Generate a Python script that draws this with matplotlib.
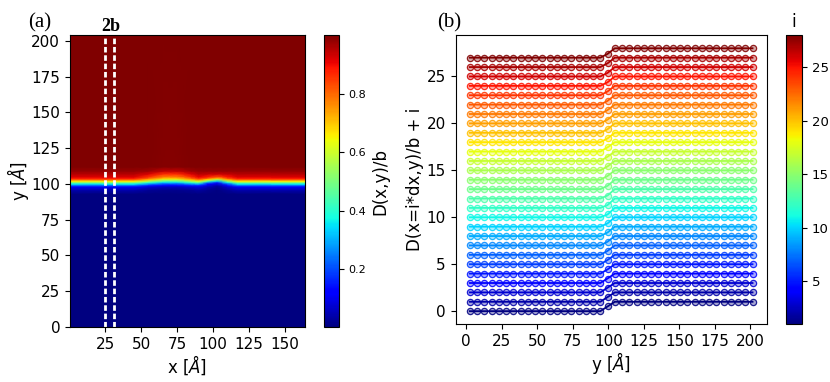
import numpy as np
import matplotlib
matplotlib.use("Agg")
from matplotlib import pyplot as plt
from matplotlib import cm, colors

# ---- panel (a): D(x,y)/b map, sampled on a coarse grid near the interface
x_cols = [0, 45, 55, 65, 75, 85, 90, 96, 103, 110, 117, 164]
y_levels = [0, 93, 96, 98, 99, 100, 101, 102, 103, 104, 105, 107, 109, 112, 204]

base = [.003, .005, .05, .11, .22, .36, .50, .66, .80, .88, .92, .95, .98, .999, .999]
side = [.003, .004, .03, .08, .15, .27, .40, .55, .70, .80, .86, .92, .97, .999, .999]
hump = [.003, .003, .02, .06, .11, .20, .32, .45, .58, .70, .78, .86, .94, .995, .999]
dip = [.003, .004, .04, .09, .15, .30, .46, .62, .77, .86, .91, .95, .98, .999, .999]
dome_l = [.003, .004, .02, .05, .09, .13, .25, .45, .65, .80, .88, .94, .98, .999, .999]
dome_c = [.003, .003, .01, .02, .04, .08, .14, .30, .50, .70, .83, .93, .98, .999, .999]
dome_r = [.003, .004, .03, .07, .12, .20, .35, .52, .70, .82, .89, .94, .98, .999, .999]
D_cols = [base, base, side, hump, hump, side, dip, dome_l, dome_c, dome_r, base, base]

# ---- panel (b): profiles D(x=i*dx, y)/b along y, one per column i
y_pts = [2.55, 7.65, 12.75, 17.85, 22.95, 28.05, 33.15, 38.25, 43.35, 48.45,
         53.55, 58.65, 63.75, 68.85, 73.95, 79.05, 84.15, 89.25, 94.35, 99.45,
         104.55, 109.65, 114.75, 119.85, 124.95, 130.05, 135.15, 140.25, 145.35, 150.45,
         155.55, 160.65, 165.75, 170.85, 175.95, 181.05, 186.15, 191.25, 196.35, 201.45]
i_vals = list(range(1, 29))
low_part = [0.0] * 19
high_part = [1.0] * 20
mid_vals = [0.5, 0.5, 0.5, 0.48, 0.45, 0.45, 0.42, 0.4, 0.38, 0.35, 0.3, 0.3, 0.32, 0.35,
            0.4, 0.42, 0.45, 0.45, 0.4, 0.38, 0.4, 0.42, 0.4, 0.4, 0.38, 0.38, 0.4, 0.4]

fig = plt.figure(figsize=(8.3, 3.82), dpi=100)

# panel (a)
ax1 = fig.add_axes([0.0843, 0.144, 0.283, 0.764])
X, Y = np.meshgrid(x_cols, y_levels)
D = np.array(D_cols).T
mesh = ax1.pcolormesh(X, Y, D, shading='gouraud', cmap='jet', vmin=0.003, vmax=1.0)
ax1.set_xlim(0.4, 164)
ax1.set_ylim(0, 204)
ax1.set_xticks([25, 50, 75, 100, 125, 150])
ax1.set_yticks([0, 25, 50, 75, 100, 125, 150, 175, 200])
ax1.tick_params(labelsize=11)
ax1.set_xlabel(r'x [$\AA$]', fontsize=12, labelpad=1)
ax1.set_ylabel(r'y [$\AA$]', fontsize=12, labelpad=0)
for xv in [25, 31]:
    ax1.axvline(xv, color='white', lw=2, ls=(0, (2, 1)))
ax1.text(28.5, 204, '2b', ha='center', va='bottom', fontsize=13,
         fontweight='bold', family='Liberation Serif')

cax1 = fig.add_axes([0.390, 0.144, 0.018, 0.764])
cb1 = fig.colorbar(mesh, cax=cax1)
cb1.set_ticks([0.2, 0.4, 0.6, 0.8])
cb1.ax.tick_params(labelsize=8)
cb1.set_label('D(x,y)/b', fontsize=12)

# panel (b)
ax2 = fig.add_axes([0.549, 0.151, 0.3747, 0.757])
norm = colors.Normalize(vmin=1, vmax=28)
cmap = plt.get_cmap('jet')
for i, m in zip(i_vals, mid_vals):
    prof = np.array(low_part + [m] + high_part) + (i - 1)
    c = cmap(norm(i))
    ax2.plot(y_pts, prof, '-o', color=c, lw=1.3, ms=4.5,
             mfc=(c[0], c[1], c[2], 0.35), mec=(c[0], c[1], c[2], 0.85), mew=0.9)
ax2.set_xticks([0, 25, 50, 75, 100, 125, 150, 175, 200])
ax2.set_yticks([0, 5, 10, 15, 20, 25])
ax2.tick_params(labelsize=11)
ax2.set_xlabel(r'y [$\AA$]', fontsize=12, labelpad=1)
ax2.set_ylabel('D(x=i*dx,y)/b + i', fontsize=12, labelpad=2)

cax2 = fig.add_axes([0.947, 0.151, 0.019, 0.757])
sm = cm.ScalarMappable(norm=norm, cmap=cmap)
cb2 = fig.colorbar(sm, cax=cax2)
cb2.set_ticks([5, 10, 15, 20, 25])
cb2.ax.tick_params(labelsize=9.5)
cb2.ax.set_title('i', fontsize=12)

fig.text(0.034, 0.965, '(a)', fontsize=15, family='Liberation Serif', va='top')
fig.text(0.527, 0.965, '(b)', fontsize=15, family='Liberation Serif', va='top')

fig.savefig('out.png', dpi=100)
